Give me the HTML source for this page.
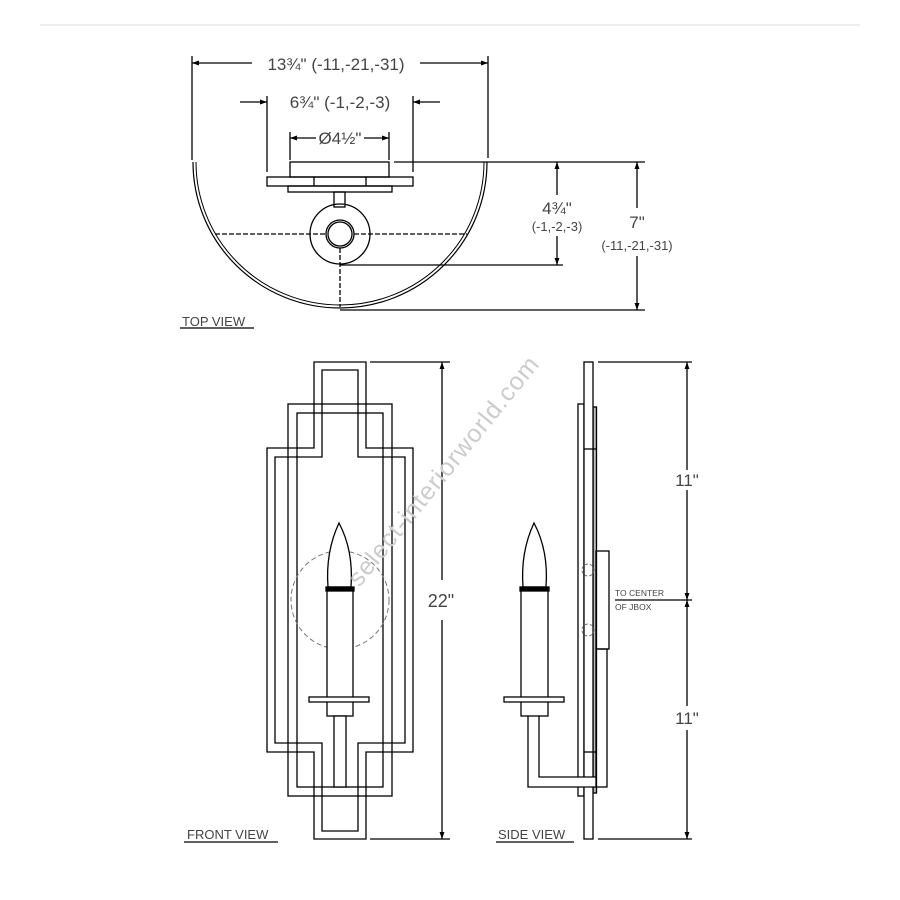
<!DOCTYPE html>
<html><head><style>
html,body{margin:0;padding:0;background:#fff;}
svg{display:block;}
text{font-family:"Liberation Sans",sans-serif;fill:#444;}
</style></head><body>
<svg width="900" height="900" viewBox="0 0 900 900" xmlns="http://www.w3.org/2000/svg">
<defs>
<marker id="a" viewBox="0 0 10 10" refX="10" refY="5" markerWidth="10" markerHeight="7" orient="auto-start-reverse" markerUnits="userSpaceOnUse"><path d="M0,1.5 L10,5 L0,8.5 Z" fill="#000"/></marker>
</defs>
<line x1="40" y1="25" x2="860" y2="25" stroke="#eee" stroke-width="2"/>
<g stroke="#000" fill="none" stroke-width="1.3">
<!-- TOP VIEW -->
<line x1="192" y1="56" x2="192" y2="160"/>
<line x1="488" y1="56" x2="488" y2="158"/>
<line x1="192" y1="63" x2="252" y2="63" marker-start="url(#a)"/>
<line x1="420" y1="63" x2="488" y2="63" marker-end="url(#a)"/>
<line x1="267" y1="96" x2="267" y2="172"/>
<line x1="413" y1="96" x2="413" y2="172"/>
<line x1="240" y1="102" x2="267" y2="102" marker-end="url(#a)"/>
<line x1="440" y1="102" x2="413" y2="102" marker-end="url(#a)"/>
<line x1="290" y1="132" x2="290" y2="160"/>
<line x1="389" y1="132" x2="389" y2="160"/>
<line x1="290" y1="138" x2="316" y2="138" marker-start="url(#a)"/>
<line x1="364" y1="138" x2="389" y2="138" marker-end="url(#a)"/>
<path d="M193,162 A147,146 0 0 0 487,162" stroke-width="1.2"/>
<path d="M196,162 A144,143 0 0 0 484,162" stroke-width="1"/>
<rect x="290" y="162" width="99" height="15"/>
<rect x="267" y="177" width="146" height="9"/>
<line x1="314" y1="177" x2="314" y2="186"/><line x1="366" y1="177" x2="366" y2="186"/>
<rect x="288" y="186" width="104" height="6"/>
<rect x="334" y="192" width="11" height="15"/>
<circle cx="340" cy="234" r="30"/>
<circle cx="340" cy="234" r="14"/>
<circle cx="340" cy="234" r="12"/>
<line x1="215" y1="234" x2="326" y2="234" stroke-dasharray="5 2"/>
<line x1="354" y1="234" x2="467" y2="234" stroke-dasharray="5 2"/>
<line x1="340" y1="248" x2="340" y2="307" stroke-dasharray="5 2"/>
<line x1="394" y1="162" x2="645" y2="162"/>
<line x1="340" y1="265" x2="563" y2="265"/>
<line x1="340" y1="310" x2="645" y2="310"/>
<line x1="557" y1="195" x2="557" y2="162" marker-end="url(#a)"/>
<line x1="557" y1="236" x2="557" y2="265" marker-end="url(#a)"/>
<line x1="637" y1="208" x2="637" y2="162" marker-end="url(#a)"/>
<line x1="637" y1="256" x2="637" y2="310" marker-end="url(#a)"/>
<line x1="180" y1="328" x2="254" y2="328"/>
<!-- FRONT VIEW -->
<path d="M267,448 H314 V362 H366 V448 H413 V752 H366 V839 H314 V752 H267 Z"/>
<path d="M275,457 H322 V370 H358 V457 H405 V743 H358 V831 H322 V743 H275 Z"/>
<rect x="288" y="404" width="104" height="392"/>
<rect x="297" y="413" width="86" height="374"/>
<circle cx="340" cy="600" r="49" stroke="#777" stroke-dasharray="5 3" stroke-width="1"/>
<path d="M339,523 C331,540 326,560 328,587 L351,587 C353,560 348,540 339,523 Z" fill="#fff"/>
<rect x="326" y="587" width="28" height="4" fill="#000"/>
<rect x="327" y="591" width="26" height="125" fill="#fff"/>
<rect x="309" y="697" width="60" height="5" fill="#fff"/>
<rect x="334" y="716" width="12" height="71" fill="#fff"/>
<line x1="370" y1="362" x2="450" y2="362"/>
<line x1="370" y1="839" x2="450" y2="839"/>
<line x1="442" y1="580" x2="442" y2="362" marker-end="url(#a)"/>
<line x1="442" y1="620" x2="442" y2="839" marker-end="url(#a)"/>
<line x1="184" y1="842" x2="278" y2="842"/>
<!-- SIDE VIEW -->
<rect x="578" y="404" width="6" height="392"/>
<rect x="593" y="407" width="3.5" height="386" fill="#bbb"/>
<rect x="584" y="362" width="9" height="477" fill="#fff"/>
<line x1="584" y1="449" x2="596" y2="449"/>
<line x1="584" y1="752" x2="596" y2="752"/>
<rect x="596" y="551" width="13" height="98"/>
<rect x="596" y="649" width="11" height="138"/>
<circle cx="588" cy="570" r="6" stroke="#777" stroke-dasharray="3 2" stroke-width="1"/>
<circle cx="588" cy="630" r="6" stroke="#777" stroke-dasharray="3 2" stroke-width="1"/>
<path d="M528,716 V787 H596 V777 H539 V716" fill="#fff"/>
<path d="M534,523 C526,540 521,560 523,587 L546,587 C548,560 543,540 534,523 Z" fill="#fff"/>
<rect x="520" y="587" width="29" height="4" fill="#000"/>
<rect x="521" y="591" width="27" height="125" fill="#fff"/>
<rect x="504" y="697" width="60" height="5" fill="#fff"/>
<line x1="598" y1="362" x2="692" y2="362"/>
<line x1="598" y1="839" x2="692" y2="839"/>
<line x1="615" y1="600" x2="692" y2="600"/>
<line x1="687" y1="470" x2="687" y2="362" marker-end="url(#a)"/>
<line x1="687" y1="490" x2="687" y2="600" marker-end="url(#a)"/>
<line x1="687" y1="706" x2="687" y2="600" marker-end="url(#a)"/>
<line x1="687" y1="730" x2="687" y2="839" marker-end="url(#a)"/>
<line x1="496" y1="842" x2="574" y2="842"/>
</g>
<!-- text -->
<text x="336" y="70" font-size="17" text-anchor="middle">13¾" (-11,-21,-31)</text>
<text x="340" y="108" font-size="17" text-anchor="middle">6¾" (-1,-2,-3)</text>
<text x="340" y="144" font-size="17" text-anchor="middle">Ø4½"</text>
<text x="557" y="214" font-size="17" text-anchor="middle">4¾"</text>
<text x="557" y="231" font-size="13" text-anchor="middle">(-1,-2,-3)</text>
<text x="637" y="228" font-size="17" text-anchor="middle">7"</text>
<text x="637" y="250" font-size="13" text-anchor="middle">(-11,-21,-31)</text>
<text x="182" y="326" font-size="13">TOP VIEW</text>
<text x="441" y="607" font-size="18" text-anchor="middle">22"</text>
<text x="187" y="839" font-size="13">FRONT VIEW</text>
<text x="687" y="486" font-size="17" text-anchor="middle">11"</text>
<text x="687" y="724" font-size="17" text-anchor="middle">11"</text>
<text x="615" y="596" font-size="8.5">TO CENTER</text>
<text x="615" y="610" font-size="8.5">OF JBOX</text>
<text x="498" y="839" font-size="13">SIDE VIEW</text>
<text x="450" y="476" font-size="25" letter-spacing="1" text-anchor="middle" transform="rotate(-51 450 476)" style="fill:#ccc">select-interiorworld.com</text>
</svg>
</body></html>
